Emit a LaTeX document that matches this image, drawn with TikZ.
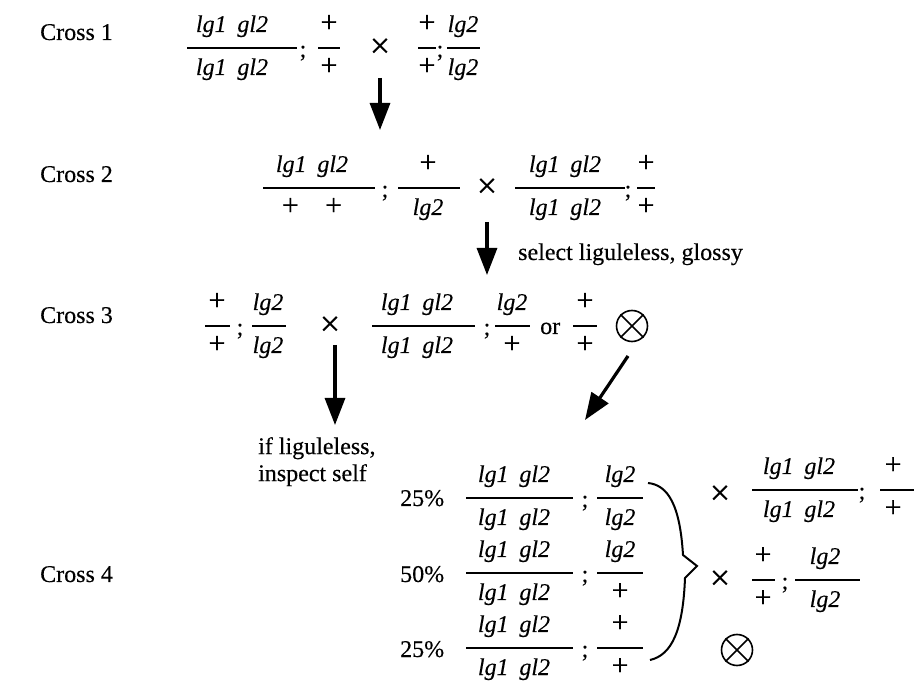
\documentclass[tikz,border=0pt]{standalone}
\usepackage{fontspec}
\setmainfont{Liberation Serif}[FakeBold=0.3]
\usetikzlibrary{arrows.meta}
\newcommand\Lgb{\textit{lg1\hspace{.45em}gl2}}
\newcommand\Lgt{\textit{lg2}}
\newcommand\Pl{{\fontsize{30}{30}\selectfont +}}
\begin{document}
\begin{tikzpicture}[x=1pt,y=-1pt,
  txt/.style={font=\fontsize{24}{27}\selectfont, inner sep=0pt},
  bigx/.style={font=\fontsize{36}{36}\selectfont, inner sep=0pt},
  fl/.style={line width=2pt},
  arr/.style={line width=3.2pt, -{Triangle[width=20pt,length=27pt]}},
  brace/.style={line width=2pt},
  otimes/.style={draw, circle, line width=1.6pt, minimum size=31pt, inner sep=0pt},
  pics/frac/.style n args={4}{code={
    \draw[fl] (#3,0) -- (#4,0);
    \node[txt,anchor=base] (-n) at (0,-16) {#1};
    \node[txt,anchor=base] (-d) at (0,27) {#2};
  }}
]
\useasboundingbox (0,0) rectangle (914,684);
\newcommand\semi[2]{\node[txt,anchor=base] (#1) at (#2) {;};}
\newcommand\tms[2]{\node[bigx] (#1) at (#2) {×};}
\newcommand\otim[2]{\node[otimes] (#1) at (#2) {};
  \draw[line width=1.6pt] (#1.45) -- (#1.225) (#1.135) -- (#1.315);}

% Cross 1
\node[txt,anchor=base west] (c1) at (40,40) {Cross 1};
\pic (f1) at (232,48) {frac={\Lgb}{\Lgb}{-45}{65}};
\semi{s1}{303,57}
\pic (f2) at (329,48) {frac={\Pl}{\Pl}{-11}{11}};
\tms{x1}{380,48}
\pic (f3) at (427,48) {frac={\Pl}{\Pl}{-9}{9}};
\semi{s2}{440,57}
\pic (f4) at (463,48) {frac={\Lgt}{\Lgt}{-16}{17}};
\coordinate (a1s) at (380,78);
\coordinate (a1e) at (380,130);
\draw[arr] (a1s) -- (a1e);

% Cross 2
\node[txt,anchor=base west] (c2) at (40,182) {Cross 2};
\pic (f5) at (312,188) {frac={\Lgb}{\Pl\hspace{1.1em}\Pl}{-49}{63}};
\semi{s3}{385,197}
\pic (f6) at (428,188) {frac={\Pl}{\Lgt}{-30}{32}};
\tms{x2}{487,188}
\pic (f7) at (565,188) {frac={\Lgb}{\Lgb}{-50}{60}};
\semi{s4}{628,197}
\pic (f8) at (646,188) {frac={\Pl}{\Pl}{-9}{9}};
\coordinate (a2s) at (487,222);
\coordinate (a2e) at (487,275);
\draw[arr] (a2s) -- (a2e);
\node[txt,anchor=base west] (sel) at (518,260) {select liguleless, glossy};

% Cross 3
\node[txt,anchor=base west] (c3) at (40,323) {Cross 3};
\pic (f9) at (217,326) {frac={\Pl}{\Pl}{-12}{13}};
\semi{s5}{240,335}
\pic (f10) at (268,326) {frac={\Lgt}{\Lgt}{-16}{18}};
\tms{x3}{330,326}
\pic (f11) at (417,326) {frac={\Lgb}{\Lgb}{-45}{58}};
\semi{s6}{487,335}
\pic (f12) at (512,326) {frac={\Lgt}{\Pl}{-17}{18}};
\node[txt,anchor=base west] (or) at (540,334) {or};
\pic (f13) at (585,326) {frac={\Pl}{\Pl}{-12}{12}};
\otim{o1}{632,326}
\coordinate (a3s) at (335,345);
\coordinate (a3e) at (335,425);
\draw[arr] (a3s) -- (a3e);
\coordinate (a4s) at (628,356);
\coordinate (a4e) at (585,420);
\draw[arr] (a4s) -- (a4e);
\node[txt,anchor=north west,align=left] (ifl) at (258,437) {if liguleless,\\inspect self};

% Cross 4
\node[txt,anchor=base west] (c4) at (40,582) {Cross 4};
\node[txt,anchor=base west] (p1) at (400,506) {25\%};
\pic (f14) at (514,498) {frac={\Lgb}{\Lgb}{-48}{59}};
\semi{s7}{585,507}
\pic (f15) at (620,498) {frac={\Lgt}{\Lgt}{-23}{23}};
\node[txt,anchor=base west] (p2) at (400,582) {50\%};
\pic (f16) at (514,573) {frac={\Lgb}{\Lgb}{-48}{59}};
\semi{s8}{585,582}
\pic (f17) at (620,573) {frac={\Lgt}{\Pl}{-23}{23}};
\node[txt,anchor=base west] (p3) at (400,657) {25\%};
\pic (f18) at (514,648) {frac={\Lgb}{\Lgb}{-48}{59}};
\semi{s9}{585,657}
\pic (f19) at (620,648) {frac={\Pl}{\Pl}{-23}{23}};
\draw[brace] (648,483) .. controls (668,485) and (680,505) .. (683,555)
  -- (697,566) -- (685,578) .. controls (683,630) and (672,655) .. (650,660);
\tms{x4}{720,495}
\pic (f20) at (799,490) {frac={\Lgb}{\Lgb}{-47}{59}};
\semi{s10}{862,499}
\pic (f21) at (893,490) {frac={\Pl}{\Pl}{-13}{21}};
\tms{x5}{720,580}
\pic (f22) at (763,580) {frac={\Pl}{\Pl}{-11}{12}};
\semi{s11}{785,589}
\pic (f23) at (825,580) {frac={\Lgt}{\Lgt}{-30}{35}};
\otim{o2}{737,650}
\end{tikzpicture}
\end{document}
